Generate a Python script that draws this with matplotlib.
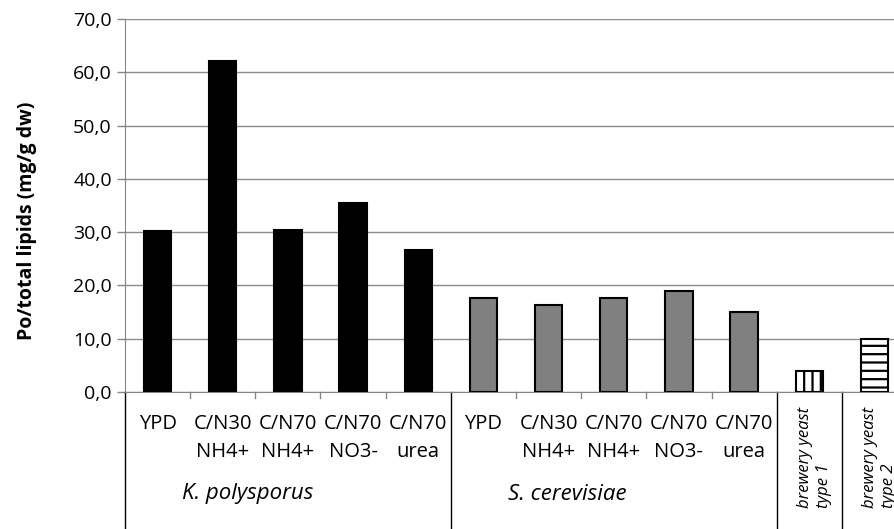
import numpy as np
import matplotlib
matplotlib.use("Agg")
import matplotlib.pyplot as plt
import matplotlib.transforms as mtransforms
from matplotlib.ticker import FuncFormatter

#===== data ============#
categories = ["YPD", "C/N30\nNH4+", "C/N70\nNH4+", "C/N70\nNO3-", "C/N70\nurea",
              "YPD", "C/N30\nNH4+", "C/N70\nNH4+", "C/N70\nNO3-", "C/N70\nurea",
              "brewery yeast\ntype 1", "brewery yeast\ntype 2"]
values = [30.2, 62.1, 30.4, 35.4, 26.6,
          17.7, 16.3, 17.6, 18.9, 15.0,
          4.0, 10.0]
groups = ["K. polysporus", "S. cerevisiae"]
group_start = [0, 5]
group_edges = [-0.5, 4.5, 9.5, 10.5, 11.5]
colors = ["black"] * 5 + ["#808080"] * 5 + ["white", "white"]
hatches = [None] * 10 + ["||", "--"]

plt.rcParams['font.family'] = ['Open Sans', 'DejaVu Sans']
plt.rcParams['hatch.linewidth'] = 1.6
plt.rcParams['hatch.color'] = 'black'

fig = plt.figure(figsize=(8.95, 5.29), dpi=100)
# axes runs a bit past the right border, like the original
ax = fig.add_axes([125/895, 1 - 392/529, 782/895, 373/529])

x = np.arange(len(values))
for i in range(len(values)):
    ax.bar(x[i], values[i], width=0.42, color=colors[i], edgecolor='black',
           linewidth=1.5, hatch=hatches[i], zorder=3)

ax.set_xlim(-0.5, 11.5)
ax.set_ylim(0, 70)
ax.set_yticks(np.arange(0, 71, 10))
ax.yaxis.set_major_formatter(FuncFormatter(lambda v, p: ("%.1f" % v).replace(".", ",")))
ax.tick_params(axis='y', labelsize=14, colors='#868686', labelcolor='black',
               length=6, width=1)
ax.grid(axis='y', color='#8c8c8c', linewidth=1, zorder=0)
ax.set_xticks([])
for s in ['top', 'right']:
    ax.spines[s].set_visible(False)
ax.spines['left'].set_color('#868686')
ax.spines['bottom'].set_color('#868686')
ax.set_ylabel('Po/total lipids (mg/g dw)', fontsize=14, fontweight='bold')
ax.yaxis.set_label_coords(-0.112, 0.46)

trans = mtransforms.blended_transform_factory(ax.transData, ax.transAxes)
bottom = (392 - 529) / 373.0

# short ticks between categories
for xi in [0.5, 1.5, 2.5, 3.5, 5.5, 6.5, 7.5, 8.5]:
    ax.plot([xi, xi], [0, -6/373.0], color='#868686', lw=1, transform=trans, clip_on=False)
# long group separators
for xe in group_edges:
    ax.plot([xe, xe], [0, bottom], color='black', lw=1, transform=trans, clip_on=False)

# category labels
for i in range(10):
    ax.text(x[i], -22/373.0, categories[i], transform=trans, ha='center', va='top',
            fontsize=14.5, linespacing=1.55)
for i in range(10, 12):
    ax.text(x[i] + 0.08, (392 - 508) / 373.0, categories[i], transform=trans,
            ha='center', va='bottom', rotation=90, fontsize=12, style='italic',
            multialignment='left', linespacing=1.2)
# group labels (sit left of the group centre, as in the original)
for g, s in zip(groups, group_start):
    ax.text(s + 0.38, (392 - 494) / 373.0, g, transform=trans, ha='left', va='center',
            fontsize=16, style='italic')

fig.savefig('out.png', dpi=100)
